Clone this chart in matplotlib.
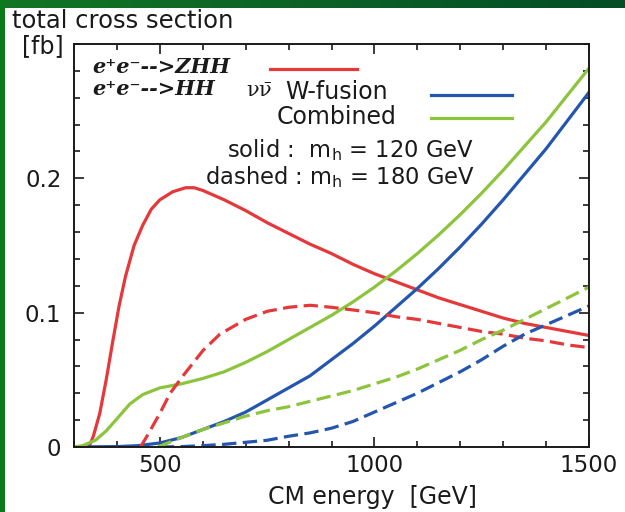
import numpy as np
import matplotlib
matplotlib.use("Agg")
import matplotlib.pyplot as plt
from matplotlib.patches import Rectangle

plt.rcParams['font.family'] = ['DejaVu Sans']
plt.rcParams['mathtext.fontset'] = 'custom'
plt.rcParams['mathtext.rm'] = 'DejaVu Serif'
plt.rcParams['mathtext.it'] = 'DejaVu Serif:italic'
plt.rcParams['mathtext.sf'] = 'DejaVu Sans'

# ---- data ----
zhh120_x = [335, 345, 360, 375, 390, 405, 420, 440, 460, 480, 500, 530, 560, 580, 600,
            650, 700, 750, 800, 850, 900, 950, 1000, 1050, 1100, 1150, 1200, 1250,
            1300, 1350, 1400, 1450, 1500]
zhh120_y = [0.0, 0.008, 0.025, 0.050, 0.078, 0.105, 0.127, 0.150, 0.165, 0.177, 0.184,
            0.190, 0.193, 0.193, 0.191, 0.184, 0.176, 0.167, 0.159, 0.151, 0.144, 0.136,
            0.129, 0.123, 0.117, 0.111, 0.106, 0.101, 0.096, 0.092, 0.089, 0.086, 0.083]

zhh180_x = [455, 470, 500, 524, 554, 601, 640, 700, 750, 800, 850, 900, 950, 1000, 1050,
            1100, 1150, 1200, 1250, 1300, 1350, 1400, 1450, 1500]
zhh180_y = [0.0, 0.008, 0.025, 0.040, 0.053, 0.072, 0.084, 0.095, 0.101, 0.104, 0.1055,
            0.104, 0.102, 0.100, 0.097, 0.095, 0.092, 0.089, 0.086, 0.084, 0.081, 0.079,
            0.076, 0.074]

wf120_x = [300, 400, 450, 500, 550, 600, 650, 700, 750, 800, 850, 900, 950, 1000, 1050,
           1100, 1150, 1200, 1250, 1300, 1350, 1400, 1450, 1500]
wf120_y = [0.0, 0.0003, 0.001, 0.003, 0.007, 0.013, 0.019, 0.026, 0.035, 0.044, 0.053,
           0.065, 0.077, 0.090, 0.104, 0.118, 0.133, 0.149, 0.166, 0.184, 0.203, 0.222,
           0.243, 0.264]

wf180_x = [500, 550, 600, 650, 700, 750, 800, 850, 900, 950, 1000, 1050, 1100, 1150,
           1200, 1250, 1300, 1350, 1400, 1450, 1500]
wf180_y = [0.0, 0.0003, 0.001, 0.002, 0.0035, 0.005, 0.008, 0.0105, 0.014, 0.019, 0.026,
           0.033, 0.040, 0.048, 0.056, 0.065, 0.075, 0.084, 0.091, 0.098, 0.105]

comb120_x = [300, 320, 350, 375, 400, 430, 460, 500, 550, 600, 650, 700, 750, 800, 850,
             900, 950, 1000, 1050, 1100, 1150, 1200, 1250, 1300, 1350, 1400, 1450, 1500]
comb120_y = [0.0, 0.001, 0.005, 0.012, 0.021, 0.032, 0.039, 0.044, 0.047, 0.051, 0.056,
             0.063, 0.071, 0.080, 0.089, 0.098, 0.108, 0.119, 0.131, 0.144, 0.158, 0.173,
             0.189, 0.206, 0.224, 0.242, 0.262, 0.282]

comb180_x = [495, 550, 600, 650, 700, 750, 800, 850, 900, 950, 1000, 1050, 1100, 1150,
             1200, 1250, 1300, 1350, 1400, 1450, 1500]
comb180_y = [0.0, 0.007, 0.013, 0.018, 0.023, 0.027, 0.030, 0.034, 0.038, 0.042, 0.047,
             0.052, 0.058, 0.065, 0.072, 0.080, 0.087, 0.095, 0.103, 0.111, 0.119]

x_ticks = [500, 1000, 1500]
y_ticks = [0, 0.1, 0.2]
y_ticklabels = ['0', '0.1', '0.2']

RED = '#e4383a'
BLUE = '#2456ae'
GREEN = '#8cc43c'
INK = '#1a1a1a'

fig = plt.figure(figsize=(6.25, 5.12), dpi=100)
fig.patch.set_facecolor('white')

# green frame of the slide
W, H = 625, 512
top_h = 8 / H
left_w = 5 / W
grad = np.linspace(0, 1, 256)
c0 = np.array([0x12, 0x76, 0x24]) / 255
c1 = np.array([0x04, 0x4d, 0x26]) / 255
img = (c0[None, :] * (1 - grad[:, None]) + c1[None, :] * grad[:, None])[None, :, :]
bg = fig.add_axes([0, 1 - top_h, 1, top_h])
bg.imshow(img, aspect='auto', extent=[0, 1, 0, 1])
bg.axis('off')
fig.patches.append(Rectangle((0, 0), left_w, 1, transform=fig.transFigure,
                             facecolor='#0c7a1c', edgecolor='none', zorder=0))

ax = fig.add_axes([74 / W, 1 - 447 / H, (589 - 74) / W, (447 - 44) / H])
lw = 2.3
dash = (4.5, 2.0)
ax.plot(zhh120_x, zhh120_y, color=RED, lw=lw)
ax.plot(wf120_x, wf120_y, color=BLUE, lw=lw)
ax.plot(comb120_x, comb120_y, color=GREEN, lw=lw)
ax.plot(zhh180_x, zhh180_y, color=RED, lw=lw, ls=(0, dash))
ax.plot(wf180_x, wf180_y, color=BLUE, lw=lw, ls=(0, dash))
ax.plot(comb180_x, comb180_y, color=GREEN, lw=lw, ls=(0, dash))

ax.set_xlim(300, 1500)
ax.set_ylim(0, 0.3)
ax.set_xticks(x_ticks)
ax.set_xticks(np.arange(300, 1501, 100), minor=True)
ax.set_yticks(y_ticks)
ax.set_yticklabels(y_ticklabels)
ax.set_yticks(np.arange(0, 0.301, 0.02), minor=True)
ax.tick_params(which='both', direction='in', top=True, right=True, labelsize=16.5,
               width=1.2, colors=INK)
ax.tick_params(which='major', length=7)
ax.tick_params(axis='x', which='major', pad=5)
ax.tick_params(axis='y', which='major', pad=9)
ax.tick_params(which='minor', length=4)
for s in ax.spines.values():
    s.set_linewidth(1.4)
    s.set_color(INK)

ax.set_xlabel('CM energy  [GeV]', fontsize=17, color=INK)
ax.xaxis.set_label_coords((372 - 74) / 515, (447 - 497) / 403)
ax.xaxis.label.set_va('center')

def px(x, y):
    return x / W, 1 - y / H

fig.text(*px(12, 21), 'total cross section', fontsize=17.5, va='center', ha='left', color=INK)
fig.text(*px(22, 46), '[fb]', fontsize=17, va='center', ha='left', color=INK)

# legend drawn by hand
serif = ['DejaVu Serif']
fig.text(*px(92, 67), 'e\u207ae\u207b-->ZHH', fontsize=15, family=serif,
         weight='bold', style='italic', va='center', ha='left', color=INK)
fig.text(*px(92, 89), 'e\u207ae\u207b-->HH', fontsize=15, family=serif,
         weight='bold', style='italic', va='center', ha='left', color=INK)
fig.text(*px(246, 91), r'$\mathrm{\nu\bar{\nu}}$', fontsize=15, va='center', ha='left',
         color=INK)
fig.text(*px(285, 92), 'W-fusion', fontsize=17, va='center', ha='left', color=INK)
fig.text(*px(277, 117), 'Combined', fontsize=17, va='center', ha='left', color=INK)
fig.lines.append(plt.Line2D([270 / W, 357 / W], [1 - 69 / H] * 2, color=RED, lw=lw,
                            transform=fig.transFigure))
fig.lines.append(plt.Line2D([431 / W, 512 / W], [1 - 95 / H] * 2, color=BLUE, lw=lw,
                            transform=fig.transFigure))
fig.lines.append(plt.Line2D([431 / W, 512 / W], [1 - 118 / H] * 2, color=GREEN, lw=lw,
                            transform=fig.transFigure))

fig.text(*px(474, 150), r'solid :  m$_{\mathsf{h}}$ = 120 GeV', fontsize=16.3,
         va='center', ha='right', color=INK)
fig.text(*px(475, 177), r'dashed : m$_{\mathsf{h}}$ = 180 GeV', fontsize=16.3,
         va='center', ha='right', color=INK)

fig.savefig('out.png', dpi=100)
